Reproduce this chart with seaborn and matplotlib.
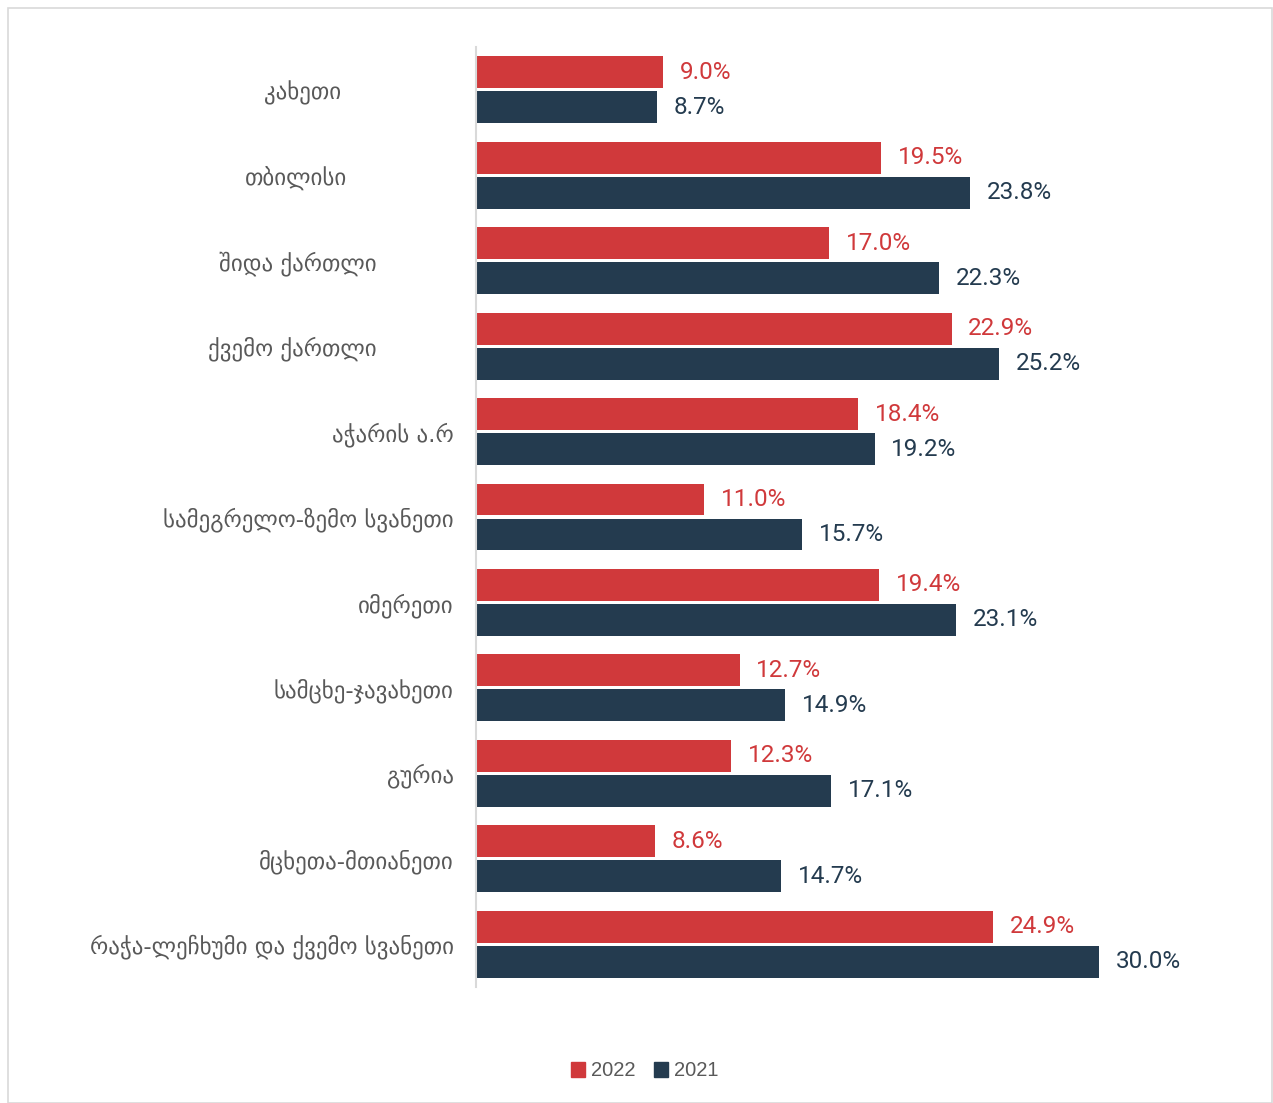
import matplotlib
matplotlib.use("Agg")
import matplotlib.pyplot as plt
from matplotlib.patches import Rectangle
from matplotlib.transforms import ScaledTranslation
import seaborn as sns
import pandas as pd

# データ
regions = ["კახეთი", "თბილისი", "შიდა ქართლი", "ქვემო ქართლი", "აჭარის ა.რ",
           "სამეგრელო-ზემო სვანეთი", "იმერეთი", "სამცხე-ჯავახეთი", "გურია",
           "მცხეთა-მთიანეთი", "რაჭა-ლეჩხუმი და ქვემო სვანეთი"]
years = ["2022", "2021"]
vals_2022 = [9.0, 19.5, 17.0, 22.9, 18.4, 11.0, 19.4, 12.7, 12.3, 8.6, 24.9]
vals_2021 = [8.7, 23.8, 22.3, 25.2, 19.2, 15.7, 23.1, 14.9, 17.1, 14.7, 30.0]

RED = "#D0393B"
NAVY = "#243B4F"

df = pd.DataFrame({
    "region": regions * 2,
    "year": [years[0]] * len(regions) + [years[1]] * len(regions),
    "value": vals_2022 + vals_2021,
})

sns.set_style("white")
plt.rcParams["font.family"] = ["DejaVu Sans"]

fig = plt.figure(figsize=(12.73, 11.03), dpi=100)
W, H = 1273, 1103
ax = fig.add_axes([476 / W, 1 - 987 / H, (1240 - 476) / W, (987 - 47) / H])

sns.barplot(data=df, y="region", x="value", hue="year", order=regions,
            hue_order=years, palette=[RED, NAVY], orient="h",
            width=0.82, gap=0.09, ax=ax, legend=False, saturation=1, linewidth=0)

ax.set_xlim(0, (1240 - 476) / (623 / 30.0))
ax.set_ylim(len(regions) - 0.5, -0.5)
ax.set_xlabel("")
ax.set_ylabel("")
ax.set_xticks([])
for s in ["top", "right", "bottom"]:
    ax.spines[s].set_visible(False)
ax.spines["left"].set_color("#d9d9d9")
ax.spines["left"].set_linewidth(1.5)
ax.tick_params(axis="y", length=0, pad=16, labelsize=16.5, labelcolor="#595959")

# 元のチャートではラベル位置が少しずれている
shift_px = [113, 107, 77, 77, 0, 0, 0, 0, 0, 0, 0]
for lab, dx in zip(ax.get_yticklabels(), shift_px):
    if dx:
        lab.set_transform(lab.get_transform() + ScaledTranslation(-dx / 100, 0, fig.dpi_scale_trans))

# 値ラベル
for cont, col in zip(ax.containers, [RED, NAVY]):
    ax.bar_label(cont, labels=[f"{v:.1f}%" for v in cont.datavalues], padding=12,
                 color=col, fontsize=17.5, family=["Roboto", "DejaVu Sans"])

# 凡例
handles = [Rectangle((0, 0), 1, 1, color=RED), Rectangle((0, 0), 1, 1, color=NAVY)]
fig.legend(handles, years, loc="center", bbox_to_anchor=(645 / W, 1 - 1071 / H),
           ncol=2, frameon=False, handlelength=0.7, handleheight=0.7,
           handletextpad=0.3, columnspacing=0.9,
           prop={"family": "Liberation Sans", "size": 14.5}, labelcolor="#595959")

# 枠線
fig.patches.append(Rectangle((8 / W, 0), (1272 - 8) / W, 1 - 8 / H, transform=fig.transFigure,
                             fill=False, edgecolor="#d9d9d9", linewidth=1.2))

fig.savefig("out.png", dpi=100)
